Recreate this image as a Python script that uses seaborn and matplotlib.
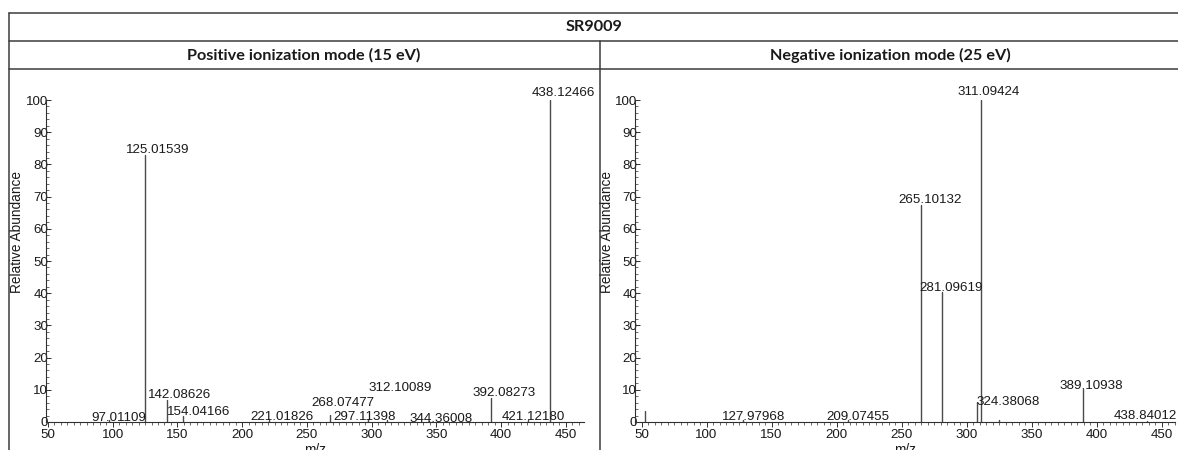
import matplotlib
matplotlib.use("Agg")
import matplotlib.pyplot as plt
from matplotlib.lines import Line2D
from matplotlib.ticker import MultipleLocator
import pandas as pd
import seaborn as sns

# ---- spectra -------------------------------------------------------------
compound = "SR9009"
pos_title = "Positive ionization mode (15 eV)"
neg_title = "Negative ionization mode (25 eV)"

# Positive ionization mode (15 eV): m/z and relative abundance (%)
pos_mz = [97.01109, 125.01539, 142.08626, 154.04166, 221.01826, 268.07477,
          297.11398, 312.10089, 344.36008, 392.08273, 421.12180, 438.12466]
pos_abundance = [0.5, 83.0, 6.8, 2.0, 0.5, 2.3, 1.0, 0.5, 0.3, 7.4, 0.5, 100.0]
pos_labelled = [True] * 12

# Negative ionization mode (25 eV)
neg_mz = [53.0, 127.97968, 209.07455, 265.10132, 281.09619, 308.0,
          311.09424, 324.38068, 389.10938, 438.84012]
neg_abundance = [3.5, 0.5, 0.5, 67.4, 40.4, 6.3, 100.0, 0.5, 10.2, 0.4]
neg_labelled = [False, True, True, True, True, False, True, True, True, True]

x_ticks = [50, 100, 150, 200, 250, 300, 350, 400, 450]
y_ticks = [0, 10, 20, 30, 40, 50, 60, 70, 80, 90, 100]

# ---- label placement (centre m/z, baseline abundance) for labelled peaks ----
pos_label_x = [104.5, 135.0, 151.8, 166.7, 230.5, 277.5, 294.4, 321.9, 353.9, 402.0, 425.0, 447.8]
pos_label_y = [0.4, 83.4, 7.5, 2.3, 0.6, 5.0, 0.6, 9.5, 0.0, 8.1, 0.6, 101.2]
neg_label_x = [136.1, 216.4, 271.7, 287.9, 317.0, 331.7, 395.8, 437.0]
neg_label_y = [0.5, 0.5, 68.1, 40.8, 101.6, 5.3, 10.4, 0.8]

W, H = 1178, 450
sns.set_theme(style="white", rc={"axes.edgecolor": "#303030",
                                 "axes.linewidth": 0.8,
                                 "xtick.color": "#303030",
                                 "ytick.color": "#303030"})
plt.rcParams["font.family"] = ["Liberation Sans", "DejaVu Sans"]

fig = plt.figure(figsize=(W / 100, H / 100), dpi=100)
fig.patch.set_facecolor("white")

TXT = "#1a1a1a"
FS = 9.6
LINE = "#4a4a4a"


def px_rect(x0, x1, y_top, y_bottom):
    return [x0 / W, 1 - y_bottom / H, (x1 - x0) / W, (y_bottom - y_top) / H]


def stick_frame(mz, ab):
    rows = []
    for i, (m, a) in enumerate(zip(mz, ab)):
        rows.append({"peak": i, "mz": m, "ab": 0.0})
        rows.append({"peak": i, "mz": m, "ab": a})
    return pd.DataFrame(rows)


def draw_spectrum(ax, mz, ab, labelled, lab_x, lab_y, xlim, ylabel_x):
    df = stick_frame(mz, ab)
    sns.lineplot(data=df, x="mz", y="ab", units="peak", estimator=None,
                 sort=False, color=LINE, linewidth=1.0, ax=ax, legend=False)
    ax.set_xlim(*xlim)
    ax.set_ylim(0, 100)
    ax.set_xticks(x_ticks)
    ax.set_yticks(y_ticks)
    ax.xaxis.set_minor_locator(MultipleLocator(5))
    ax.yaxis.set_minor_locator(MultipleLocator(2))
    ax.tick_params(axis="x", which="major", direction="out", length=3.5,
                   width=0.7, pad=1.5, labelsize=FS, labelcolor=TXT, bottom=True)
    ax.tick_params(axis="x", which="minor", direction="out", length=1.8,
                   width=0.5, bottom=True)
    ax.tick_params(axis="y", which="major", direction="in", length=3.5,
                   width=0.7, pad=-1.5, labelsize=FS, labelcolor=TXT, left=True)
    ax.tick_params(axis="y", which="minor", direction="in", length=1.8,
                   width=0.5, left=True)
    sns.despine(ax=ax, top=True, right=True)
    ax.set_facecolor("none")
    ax.set_ylabel("Relative Abundance", fontsize=FS + 0.2, color=TXT)
    ax.yaxis.set_label_coords(ylabel_x, 0.59)
    ax.set_xlabel("m/z", fontsize=FS + 0.2, color=TXT, va="top")
    ax.xaxis.set_label_coords(0.5, -0.064)
    ax.grid(False)

    k = 0
    for m, flag in zip(mz, labelled):
        if not flag:
            continue
        ax.text(lab_x[k], lab_y[k], f"{m:.5f}", ha="center", va="baseline",
                fontsize=FS, color=TXT, clip_on=False)
        k += 1


ax_pos = fig.add_axes(px_rect(46, 584, 100, 422))
draw_spectrum(ax_pos, pos_mz, pos_abundance, pos_labelled,
              pos_label_x, pos_label_y, (48.5, 464.0), -0.041)

ax_neg = fig.add_axes(px_rect(635, 1175, 100, 422))
draw_spectrum(ax_neg, neg_mz, neg_abundance, neg_labelled,
              neg_label_x, neg_label_y, (45.0, 460.0), -0.039)

# ---- table frame and headers ----
FRAME = "#3c3c3c"
lw = 1.1


def hline(y, x0=9, x1=W):
    fig.add_artist(Line2D([x0 / W, x1 / W], [1 - y / H, 1 - y / H],
                          transform=fig.transFigure, color=FRAME, lw=lw))


def vline(x, y0, y1=H):
    fig.add_artist(Line2D([x / W, x / W], [1 - y0 / H, 1 - y1 / H],
                          transform=fig.transFigure, color=FRAME, lw=lw))


hline(13)
hline(41)
hline(69)
vline(9, 13)
vline(600, 41)

head_font = ["Lato", "DejaVu Sans"]
HFS = 11.7
fig.text(594 / W, 1 - 27 / H, compound, ha="center", va="center",
         fontsize=HFS, fontweight="bold", family=head_font, color=TXT)
fig.text(304 / W, 1 - 55 / H, pos_title, ha="center", va="center",
         fontsize=HFS, fontweight="bold", family=head_font, color=TXT)
fig.text(890 / W, 1 - 55 / H, neg_title, ha="center", va="center",
         fontsize=HFS, fontweight="bold", family=head_font, color=TXT)

fig.savefig("out.png", dpi=100, facecolor="white")
